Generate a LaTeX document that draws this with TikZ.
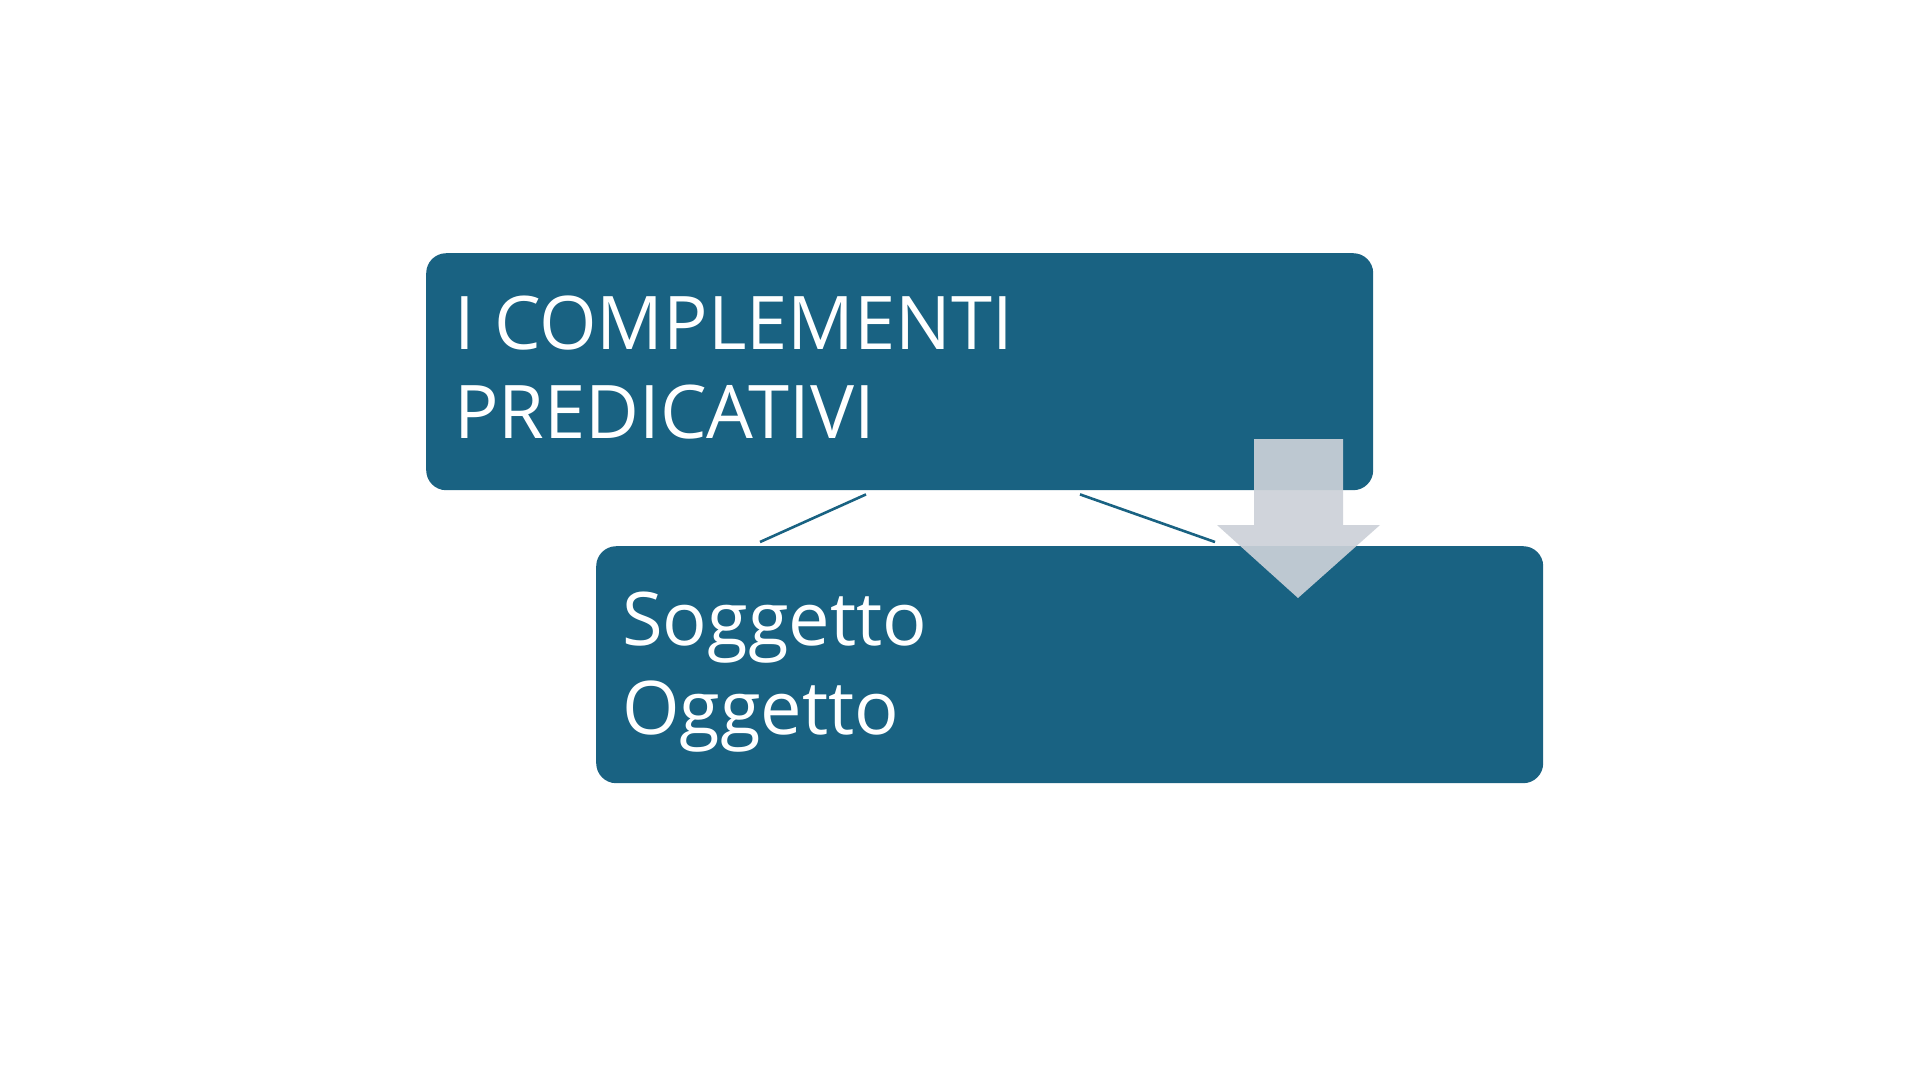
\documentclass[tikz,border=0pt]{standalone}
\usepackage{fontspec}
\setmainfont{Open Sans}
\usetikzlibrary{calc}
\definecolor{boxblue}{RGB}{25,98,130}
\definecolor{arrowgray}{RGB}{204,209,216}
\tikzset{
  box/.style={draw=none, fill=boxblue, rounded corners=20pt, minimum width=947pt, minimum height=237pt, inner sep=0pt, anchor=north west},
  boxtext/.style={text=white, inner sep=0pt, anchor=north west, align=left, font=\fontsize{74}{89}\selectfont},
  conn/.style={draw=boxblue, line width=2.6pt},
  bigarrow/.style={fill=arrowgray, fill opacity=0.92, draw=none}
}
\begin{document}
\begin{tikzpicture}[x=1pt,y=-1pt]
\useasboundingbox (0,0) rectangle (1920,1080);
\fill[white] (0,0) rectangle (1920,1080);
\node[box] (top) at (426,253) {};
\node[box] (bot) at (596,546) {};
\node[boxtext] (toptext) at (454,296) {I COMPLEMENTI\\PREDICATIVI};
\node[boxtext] (bottext) at (622,592) {Soggetto\\Oggetto};
\draw[conn] ($(top.south west)+(440,4)$) coordinate (c1a) -- ($(bot.north west)+(164,-4)$) coordinate (c1b);
\draw[conn] ($(top.south west)+(654,4)$) coordinate (c2a) -- ($(bot.north west)+(619,-4)$) coordinate (c2b);
\path[bigarrow] (1254,439) -- (1343,439) -- (1343,525) -- (1380,525) -- (1298,598) -- (1217,525) -- (1254,525) -- cycle;
\end{tikzpicture}
\end{document}
